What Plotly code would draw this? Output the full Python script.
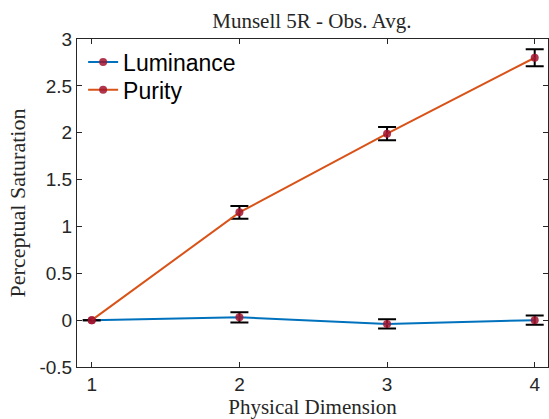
import plotly.graph_objects as go

dims = [1, 2, 3, 4]
luminance = [0.0, 0.03, -0.04, 0.0]
luminance_err = [0.0, 0.055, 0.05, 0.05]
purity = [0.0, 1.15, 1.99, 2.80]
purity_err = [0.0, 0.067, 0.07, 0.09]

series = [
    ("Luminance", luminance, luminance_err, "#0072BD", "legend"),
    ("Purity", purity, purity_err, "#D95319", "legend2"),
]

fig = go.Figure()
for name, vals, errs, col, leg in series:
    fig.add_trace(go.Scatter(
        x=dims, y=vals, name=name, mode="lines+markers",
        line=dict(color=col, width=2),
        marker=dict(color="#A2142F", size=8, opacity=0.85),
        error_y=dict(type="data", array=errs, visible=True,
                     color="black", thickness=2, width=9),
        legend=leg,
    ))

axis_common = dict(
    showgrid=False, zeroline=False, showline=True, linecolor="#262626",
    linewidth=1, mirror="ticks", ticks="inside", ticklen=5,
    tickcolor="#262626",
    tickfont=dict(family="Liberation Sans, Arial", size=19, color="#262626"),
)

serif = "Liberation Serif, Times New Roman"
leg_common = dict(xanchor="left", yanchor="middle",
                  bgcolor="rgba(0,0,0,0)", borderwidth=0,
                  font=dict(family="Liberation Sans, Arial", size=23, color="black"),
                  itemwidth=30)

fig.update_layout(
    width=549, height=419,
    margin=dict(l=77, r=1, t=39, b=52),
    paper_bgcolor="white", plot_bgcolor="white",
    title=dict(text="Munsell 5R - Obs. Avg.", x=0.568, xanchor="center",
               y=0.95, yanchor="middle",
               font=dict(family=serif, size=21, color="#262626")),
    xaxis=dict(range=[0.9, 4.09], tickvals=[1, 2, 3, 4],
               title=dict(text="Physical Dimension", standoff=2,
                          font=dict(family=serif, size=21, color="#262626")),
               **axis_common),
    yaxis=dict(range=[-0.5, 3], tickvals=[-0.5, 0, 0.5, 1, 1.5, 2, 2.5, 3],
               ticktext=["-0.5", "0", "0.5", "1", "1.5", "2", "2.5", "3"],
               title=dict(text="Perceptual Saturation", standoff=7,
                          font=dict(family=serif, size=22, color="#262626")),
               **axis_common),
    legend=dict(x=0.013, y=0.930, **leg_common),
    legend2=dict(x=0.013, y=0.845, **leg_common),
    showlegend=True,
)

fig.write_html("out.html")
